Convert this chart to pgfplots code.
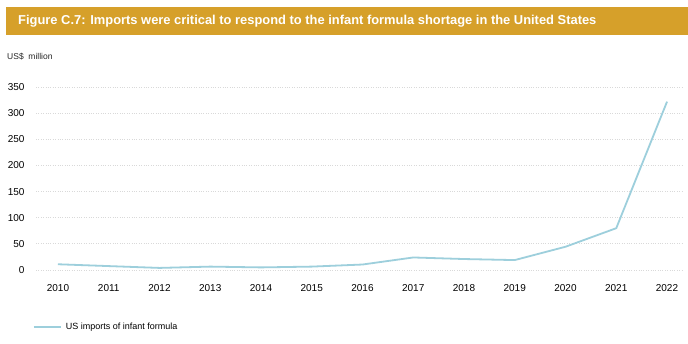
\documentclass[border=0pt]{standalone}
\usepackage{pgfplots}
\pgfplotsset{compat=1.18}
\usepackage{fontspec}
\setmainfont{Liberation Sans}
\definecolor{banner}{HTML}{D6A02A}
\definecolor{lineblue}{HTML}{9DCFDC}
\definecolor{gridgray}{HTML}{D9D9D9}
\begin{document}
\begin{tikzpicture}[x=1bp,y=1bp]
\fill[white] (0,0) rectangle (688,-343);
\fill[banner] (6,-7) rectangle (688,-35);
\node[anchor=west,text=white,font=\bfseries\fontsize{12.9bp}{14bp}\selectfont,inner sep=0] at (18,-21) {Figure C.7: Imports were critical to respond to the infant formula shortage in the United States};
\node[anchor=west,font=\fontsize{8.5bp}{10bp}\selectfont,inner sep=0,text=black!85] at (7,-57) {US\$\ \ million};
\begin{axis}[
  at={(36bp,-270bp)}, anchor=south west,
  scale only axis, width=647bp, height=183bp,
  xmin=2009.567, xmax=2022.315, ymin=0, ymax=350,
  axis line style={draw=none},
  major tick length=0,
  xtick={2010,...,2022}, ytick={0,50,...,350},
  ymajorgrids, grid style={gridgray, dotted, line width=0.8bp},
  x tick label style={/pgf/number format/1000 sep=, font=\fontsize{10bp}{11bp}\selectfont, yshift=-11bp},
  y tick label style={font=\fontsize{10bp}{11bp}\selectfont, xshift=-8bp},
  /pgf/number format/assume math mode=true,
  clip=false,
  legend style={at={(-0.005,-0.311)}, anchor=west, draw=none, fill=none, font=\fontsize{9bp}{10bp}\selectfont, inner sep=0pt, nodes={inner xsep=4bp}},
  legend image code/.code={\draw[#1] (0bp,0bp) -- (27bp,0bp);},
  legend cell align=left,
]
\addplot[lineblue, line width=1.8bp] coordinates {
(2010,11) (2011,7.5) (2012,4) (2013,6.5) (2014,5) (2015,6.5) (2016,10.5) (2017,24) (2018,21) (2019,19) (2020,44.5) (2021,80) (2022,322)
};
\addlegendentry{US imports of infant formula}
\end{axis}
\end{tikzpicture}
\end{document}
